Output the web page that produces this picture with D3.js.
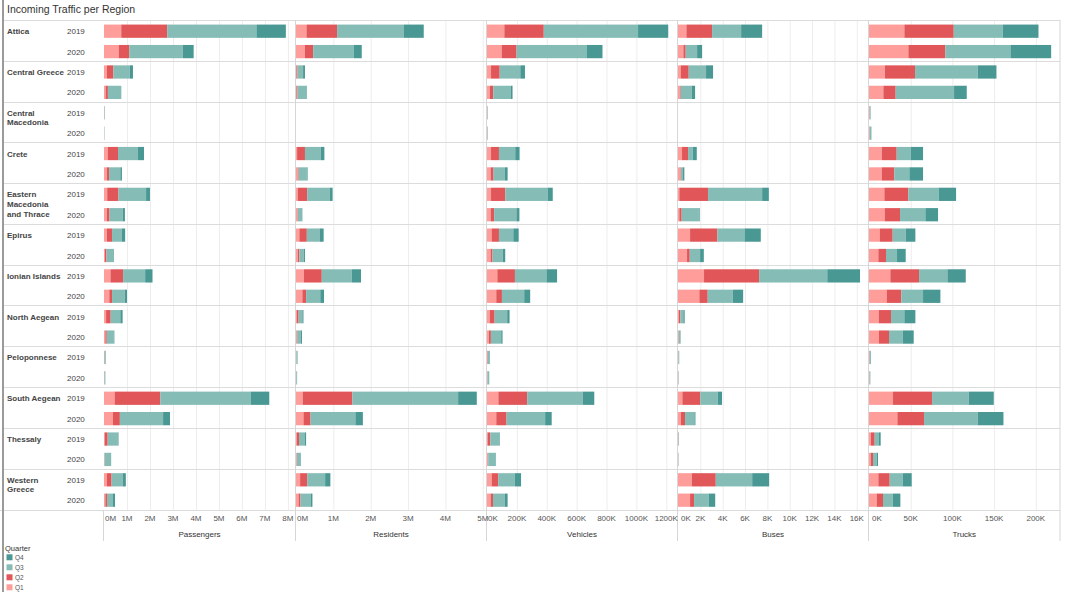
<!DOCTYPE html>
<html>
<head>
<meta charset="utf-8">
<script src="https://cdn.jsdelivr.net/npm/d3@7"></script>
<style>
  body { margin: 0; background: #fff; }
  svg { display: block; font-family: "Liberation Sans", Arial, sans-serif; }
</style>
</head>
<body>
<svg id="chart" width="1065" height="592"></svg>
<script>
// ---- data (all values in thousands) ----
const regions = ["Attica", "Central Greece", "Central Macedonia", "Crete", "Eastern Macedonia and Thrace",
  "Epirus", "Ionian Islands", "North Aegean", "Peloponnese", "South Aegean", "Thessaly", "Western Greece"];
const regionLines = [["Attica"], ["Central Greece"], ["Central", "Macedonia"], ["Crete"],
  ["Eastern", "Macedonia", "and Thrace"], ["Epirus"], ["Ionian Islands"], ["North Aegean"],
  ["Peloponnese"], ["South Aegean"], ["Thessaly"], ["Western", "Greece"]];
const years = ["2019", "2020"];
const quarters = ["Q1", "Q2", "Q3", "Q4"];
const measures = ["Passengers", "Residents", "Vehicles", "Buses", "Trucks"];

// one row per region: [Q1, Q2, Q3, Q4]
const passengers2019 = [[750, 2000, 3880, 1280], [130, 280, 710, 140], [4, 6, 20, 5], [160, 450, 870, 260],
  [140, 490, 1200, 170], [130, 220, 430, 140], [280, 550, 960, 320], [90, 200, 420, 100],
  [10, 15, 45, 10], [460, 1990, 3940, 800], [30, 130, 430, 40], [130, 200, 480, 140]];
const passengers2020 = [[640, 460, 2320, 480], [70, 100, 570, 10], [3, 2, 15, 3], [120, 100, 490, 70],
  [120, 120, 580, 90], [40, 70, 280, 30], [230, 120, 550, 100], [60, 60, 300, 30],
  [8, 10, 35, 7], [390, 300, 1880, 300], [20, 5, 280, 5], [60, 70, 260, 90]];

const residents2019 = [[280, 820, 1780, 540], [10, 30, 150, 50], [0, 0, 0, 0], [30, 210, 420, 100],
  [50, 250, 600, 80], [90, 200, 340, 110], [210, 480, 800, 250], [20, 50, 100, 30],
  [5, 5, 30, 5], [180, 1330, 2830, 500], [20, 60, 160, 30], [110, 190, 480, 140]];
const residents2020 = [[240, 220, 1090, 210], [10, 30, 250, 5], [0, 0, 0, 0], [50, 20, 220, 20],
  [40, 10, 120, 3], [50, 40, 120, 30], [170, 100, 380, 100], [20, 10, 100, 30],
  [3, 3, 20, 3], [200, 190, 1200, 200], [20, 3, 100, 10], [70, 50, 280, 40]];

const vehicles2019 = [[116, 264, 631, 202], [27, 58, 138, 31], [1, 1, 2, 1], [27, 53, 109, 29],
  [27, 96, 284, 33], [31, 49, 96, 36], [69, 118, 211, 71], [18, 33, 84, 16],
  [3, 3, 12, 2], [76, 193, 371, 78], [4, 18, 64, 1], [31, 44, 111, 42]];
const vehicles2020 = [[98, 100, 471, 104], [20, 22, 118, 11], [1, 1, 2, 1], [24, 20, 76, 18],
  [24, 24, 149, 20], [24, 13, 69, 16], [62, 38, 149, 40], [13, 13, 69, 9],
  [2, 2, 10, 1], [62, 69, 258, 44], [7, 1, 51, 1], [24, 16, 80, 18]];

const buses2019 = [[0.75, 2.3, 2.6, 1.88], [0.24, 0.72, 1.55, 0.63], [0, 0, 0, 0], [0.36, 0.54, 0.42, 0.36],
  [0.12, 2.57, 4.84, 0.6], [1.08, 2.45, 2.42, 1.46], [2.33, 4.93, 6.1, 2.93], [0.09, 0.12, 0.27, 0.12],
  [0.02, 0.02, 0.06, 0.01], [0.39, 1.61, 1.55, 0.39], [0.01, 0.02, 0.04, 0.01], [1.23, 2.15, 3.26, 1.52]];
const buses2020 = [[0.48, 0.21, 1.02, 0.45], [0.18, 0.06, 0.99, 0.3], [0, 0, 0, 0], [0.24, 0.03, 0.18, 0.12],
  [0.12, 0.21, 1.52, 0.09], [0.81, 0.24, 0.93, 0.33], [1.91, 0.75, 2.24, 0.93], [0.05, 0.02, 0.15, 0.02],
  [0.01, 0.01, 0.03, 0.01], [0.27, 0.36, 0.84, 0.09], [0.01, 0.01, 0.02, 0.01], [1.08, 0.36, 1.32, 0.57]];

const trucks2019 = [[42.4, 59.2, 58.8, 42.8], [19.2, 36, 75.2, 22.4], [0.4, 0.4, 1, 0.2], [15.2, 18, 16.8, 14.8],
  [18.4, 28.8, 36.4, 20.8], [12.8, 15.6, 15.6, 11.6], [25.6, 34.4, 34, 22], [11.6, 14.8, 16, 13.2],
  [0.4, 0.4, 1.2, 0.4], [28.8, 46.8, 44, 30], [2.4, 4.4, 5.2, 2], [11.2, 13.6, 15.6, 10.8]];
const trucks2020 = [[47.2, 44.4, 78, 48.8], [17.2, 14.8, 70, 15.2], [0.4, 0.4, 1.6, 0.4], [15.2, 15.2, 18, 16.4],
  [18.8, 18.4, 30.4, 15.2], [11.2, 9.2, 13.2, 10.4], [21.2, 17.6, 26, 20.8], [12, 12, 16.4, 13.2],
  [0.3, 0.3, 0.8, 0.2], [34, 32, 64.4, 30.8], [2, 2.8, 4.4, 1.6], [9.2, 7.6, 11.6, 9.2]];

const measureData = [
  [passengers2019, passengers2020],
  [residents2019, residents2020],
  [vehicles2019, vehicles2020],
  [buses2019, buses2020],
  [trucks2019, trucks2020]
];

// tick values (thousands) and their labels
const passengerTicks = [0, 1000, 2000, 3000, 4000, 5000, 6000, 7000, 8000];
const passengerLabels = ["0M", "1M", "2M", "3M", "4M", "5M", "6M", "7M", "8M"];
const residentTicks = [0, 1000, 2000, 3000, 4000, 5000];
const residentLabels = ["0M", "1M", "2M", "3M", "4M", "5M"];
const vehicleTicks = [0, 200, 400, 600, 800, 1000, 1200];
const vehicleLabels = ["0K", "200K", "400K", "600K", "800K", "1000K", "1200K"];
const busTicks = [0, 2, 4, 6, 8, 10, 12, 14, 16];
const busLabels = ["0K", "2K", "4K", "6K", "8K", "10K", "12K", "14K", "16K"];
const truckTicks = [0, 50, 100, 150, 200];
const truckLabels = ["0K", "50K", "100K", "150K", "200K"];

const allTicks = [passengerTicks, residentTicks, vehicleTicks, busTicks, truckTicks];
const allLabels = [passengerLabels, residentLabels, vehicleLabels, busLabels, truckLabels];

// ---- layout ----
const colors = { Q1: "#ff9d9a", Q2: "#e15759", Q3: "#86bcb6", Q4: "#499894" };
const rowTop = 21, rowBottom = 510.4;
const panelEdges = [103.5, 295.5, 486.5, 677.5, 868.5, 1060];
const domainMax = [8330, 5100, 1275, 17.05, 229];
// how far the first tick label is pushed into its panel
const firstLabelShift = [1, 1, 1, 3, 3];

var svg = d3.select("#chart");

var yRegion = d3.scaleBand().domain(regions).range([rowTop, rowBottom]);
var yYear = d3.scaleBand().domain(years).range([0, yRegion.bandwidth()])
  .paddingInner(0.35).paddingOuter(0.175);

var xScales = measures.map(function (m, i) {
  return d3.scaleLinear().domain([0, domainMax[i]]).range([panelEdges[i] + 0.5, panelEdges[i + 1]]);
});

// title
svg.append("text")
  .attr("x", 7)
  .attr("y", 13)
  .attr("fill", "#333")
  .style("font-size", "10.5px")
  .text("Incoming Traffic per Region");

// gridlines
measures.forEach(function (m, i) {
  svg.append("g").selectAll("line")
    .data(allTicks[i].slice(1))
    .enter().append("line")
    .attr("x1", d => xScales[i](d) + 0.5)
    .attr("x2", d => xScales[i](d) + 0.5)
    .attr("y1", rowTop)
    .attr("y2", rowBottom)
    .attr("stroke", "#ededed");
});

// region separators and frame
svg.append("g").selectAll("line")
  .data(regions)
  .enter().append("line")
  .attr("x1", 4)
  .attr("x2", 1060)
  .attr("y1", d => Math.round(yRegion(d)) - 0.5)
  .attr("y2", d => Math.round(yRegion(d)) - 0.5)
  .attr("stroke", "#dcdcdc");

svg.append("line")
  .attr("x1", 0).attr("x2", 1060)
  .attr("y1", 510.5).attr("y2", 510.5)
  .attr("stroke", "#dcdcdc");

svg.append("g").selectAll("line")
  .data(panelEdges.slice(1))
  .enter().append("line")
  .attr("x1", d => d).attr("x2", d => d)
  .attr("y1", 20).attr("y2", 541)
  .attr("stroke", "#d6d6d6");

svg.append("line")
  .attr("x1", 103.5).attr("x2", 103.5)
  .attr("y1", 510).attr("y2", 541)
  .attr("stroke", "#d6d6d6");

svg.append("rect")
  .attr("x", 2).attr("y", 0)
  .attr("width", 2).attr("height", 592)
  .attr("fill", "#9a9a9a");

// bars
measures.forEach(function (m, i) {
  var x = xScales[i];
  var g = svg.append("g").attr("class", "panel");
  years.forEach(function (yr, j) {
    var rows = measureData[i][j].map(function (v, r) {
      var row = { region: regions[r] };
      quarters.forEach((q, k) => row[q] = v[k]);
      return row;
    });
    var series = d3.stack().keys(quarters)(rows);
    g.append("g").selectAll("g")
      .data(series)
      .enter().append("g")
      .attr("fill", d => colors[d.key])
      .selectAll("rect")
      .data(d => d)
      .enter().append("rect")
      .attr("x", d => x(d[0]))
      .attr("width", d => Math.max(0, x(d[1]) - x(d[0])))
      .attr("y", d => yRegion(d.data.region) + yYear(yr))
      .attr("height", yYear.bandwidth());
  });
});

// row labels
var labels = svg.append("g").attr("fill", "#444").style("font-size", "8px");
regions.forEach(function (r, i) {
  var cy = yRegion(r) + yYear("2019") + yYear.bandwidth() / 2;
  labels.append("text")
    .attr("x", 7)
    .attr("y", cy + 3)
    .attr("font-weight", "bold")
    .selectAll("tspan")
    .data(regionLines[i])
    .enter().append("tspan")
    .attr("x", 7)
    .attr("dy", (d, k) => k === 0 ? 0 : 9.6)
    .text(d => d);
  years.forEach(function (yr) {
    labels.append("text")
      .attr("x", 67)
      .attr("y", yRegion(r) + yYear(yr) + yYear.bandwidth() / 2 + 3)
      .text(yr);
  });
});

// axes
measures.forEach(function (m, i) {
  var x = xScales[i];
  var ax = svg.append("g").style("font-size", "8px").attr("fill", "#555");
  ax.selectAll("text")
    .data(allTicks[i])
    .enter().append("text")
    .attr("x", (d, k) => k === 0 ? x(d) + firstLabelShift[i] : x(d))
    .attr("y", 521)
    .attr("text-anchor", (d, k) => k === 0 ? "start" : "middle")
    .text((d, k) => allLabels[i][k]);
  svg.append("text")
    .attr("x", (panelEdges[i] + panelEdges[i + 1]) / 2)
    .attr("y", 537)
    .attr("text-anchor", "middle")
    .attr("fill", "#333")
    .style("font-size", "8px")
    .text(m);
});

// legend
var legend = svg.append("g");
legend.append("text")
  .attr("x", 5)
  .attr("y", 551)
  .attr("fill", "#333")
  .style("font-size", "7.5px")
  .text("Quarter");
var items = legend.selectAll("g.item")
  .data(quarters.slice().reverse())
  .enter().append("g")
  .attr("class", "item")
  .attr("transform", (d, k) => "translate(6.5," + (557.3 + k * 10) + ")");
items.append("rect")
  .attr("x", 0).attr("y", -3)
  .attr("width", 6).attr("height", 6)
  .attr("fill", d => colors[d]);
items.append("text")
  .attr("x", 8.5)
  .attr("y", 2.2)
  .attr("fill", "#555")
  .style("font-size", "6.5px")
  .text(d => d);
</script>
</body>
</html>
